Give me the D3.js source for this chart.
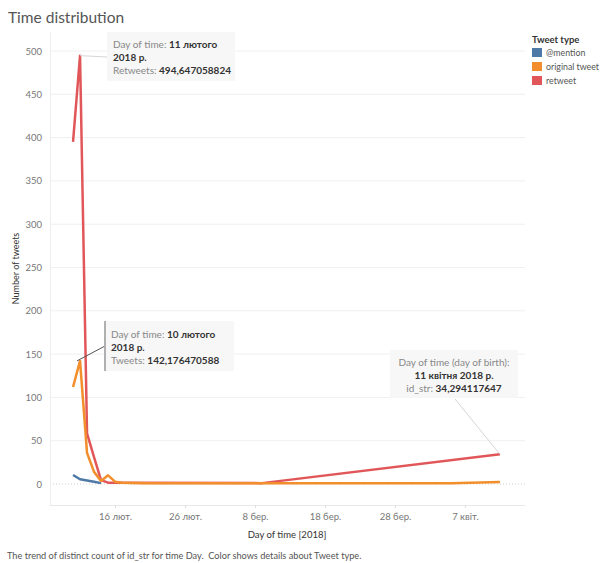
<!DOCTYPE html>
<html>
<head>
<meta charset="utf-8">
<script src="https://cdn.jsdelivr.net/npm/d3@7"></script>
<style>
  body { margin: 0; background: #fff; }
  text { font-family: Lato, "Open Sans", sans-serif; }
</style>
</head>
<body>
<div id="chart"></div>
<script>
const width = 602,
  height = 563;
const plot = { left: 50, right: 525, top: 32, bottom: 505 };

const day = (m, d) => new Date(Date.UTC(2018, m - 1, d));

// values
const mentionDates = [day(2, 10), day(2, 11), day(2, 12), day(2, 13), day(2, 14)];
const mentionValues = [10.4, 5.5, 4, 2.5, 1];

const originalDates = [day(2, 10), day(2, 11), day(2, 12), day(2, 13), day(2, 14), day(2, 15), day(2, 16), day(2, 17), day(2, 20), day(3, 1), day(3, 15), day(4, 1), day(4, 5), day(4, 12)];
const originalValues = [112, 142.176470588, 36, 14, 3.5, 10, 2.7, 1.5, 1, 1, 1, 1, 1, 2.3];

const retweetDates = [day(2, 10), day(2, 11), day(2, 12), day(2, 13), day(2, 14), day(2, 15), day(2, 16), day(3, 9), day(4, 12)];
const retweetValues = [395, 494.647058824, 58.5, 31, 4.5, 1.5, 1.5, 1, 34.294117647];

const seriesNames = ["@mention", "original tweet", "retweet"];
const seriesColors = ["#4e79a7", "#f28e2b", "#e15759"];

const yTicks = [0, 50, 100, 150, 200, 250, 300, 350, 400, 450, 500];
const xTickDates = [day(2, 16), day(2, 26), day(3, 8), day(3, 18), day(3, 28), day(4, 7)];
const xTickLabels = ["16 лют.", "26 лют.", "8 бер.", "18 бер.", "28 бер.", "7 квіт."];

const series = [
  { name: seriesNames[0], color: seriesColors[0], values: mentionDates.map((d, i) => ({ date: d, value: mentionValues[i] })) },
  { name: seriesNames[1], color: seriesColors[1], values: originalDates.map((d, i) => ({ date: d, value: originalValues[i] })) },
  { name: seriesNames[2], color: seriesColors[2], values: retweetDates.map((d, i) => ({ date: d, value: retweetValues[i] })) },
];

const x = d3
  .scaleUtc()
  .domain([new Date(Date.UTC(2018, 1, 6, 17)), new Date(Date.UTC(2018, 3, 15, 14))])
  .range([plot.left, plot.right]);
const y = d3.scaleLinear().domain([0, 500]).range([484, 51]);

const svg = d3
  .select("#chart")
  .append("svg")
  .attr("width", width)
  .attr("height", height);

// title
svg
  .append("text")
  .attr("x", 8)
  .attr("y", 23)
  .attr("font-size", 15.5)
  .attr("fill", "#555")
  .text("Time distribution");

// gridlines
svg
  .append("g")
  .selectAll("line")
  .data(yTicks.filter((d) => d !== 0))
  .enter()
  .append("line")
  .attr("x1", plot.left)
  .attr("x2", plot.right)
  .attr("y1", (d) => y(d))
  .attr("y2", (d) => y(d))
  .attr("stroke", "#f0f0f0")
  .attr("stroke-width", 1);

// zero line
svg
  .append("line")
  .attr("x1", plot.left)
  .attr("x2", plot.right)
  .attr("y1", y(0))
  .attr("y2", y(0))
  .attr("stroke", "#cfcfcf")
  .attr("stroke-dasharray", "1,2");

// plot frame lines
svg
  .append("line")
  .attr("x1", plot.left + 0.5)
  .attr("x2", plot.left + 0.5)
  .attr("y1", plot.top)
  .attr("y2", plot.bottom)
  .attr("stroke", "#eeeeee");

// y axis
const yAxis = svg
  .append("g")
  .attr("transform", `translate(${plot.left},0)`)
  .call(d3.axisLeft(y).tickValues(yTicks).tickSize(0).tickPadding(8));
yAxis.select(".domain").remove();
yAxis.selectAll("text").attr("fill", "#777").attr("font-size", 9.5).attr("font-family", "Lato, sans-serif");

svg
  .append("text")
  .attr("transform", `translate(19,${(plot.top + plot.bottom) / 2}) rotate(-90)`)
  .attr("text-anchor", "middle")
  .attr("font-size", 9)
  .attr("fill", "#333")
  .text("Number of tweets");

// x axis
const xAxis = svg
  .append("g")
  .attr("transform", `translate(0,${plot.bottom})`)
  .call(
    d3
      .axisBottom(x)
      .tickValues(xTickDates)
      .tickFormat((d, i) => xTickLabels[i])
      .tickSize(3)
      .tickSizeOuter(0)
      .tickPadding(5)
  );
xAxis.select(".domain").attr("stroke", "#e8e8e8").attr("d", `M${plot.left},0.5H${plot.right}`);
xAxis.selectAll(".tick line").attr("stroke", "#dddddd");
xAxis.selectAll("text").attr("fill", "#777").attr("font-size", 9.5).attr("font-family", "Lato, sans-serif");

svg
  .append("text")
  .attr("x", 287)
  .attr("y", 538)
  .attr("text-anchor", "middle")
  .attr("font-size", 9.5)
  .attr("fill", "#333")
  .text("Day of time [2018]");

// lines
const line = d3
  .line()
  .x((d) => x(d.date))
  .y((d) => y(d.value));

svg
  .append("g")
  .selectAll("path")
  .data([series[2], series[0], series[1]])
  .enter()
  .append("path")
  .attr("d", (d) => line(d.values))
  .attr("fill", "none")
  .attr("stroke", (d) => d.color)
  .attr("stroke-width", 2.5)
  .attr("stroke-linejoin", "round");

// annotations
function annotate(opt) {
  const g = svg.append("g");
  g.append("line")
    .attr("x1", opt.px)
    .attr("y1", opt.py)
    .attr("x2", opt.lx)
    .attr("y2", opt.ly)
    .attr("stroke", opt.lineColor)
    .attr("stroke-width", 1);
  g.append("rect")
    .attr("x", opt.bx)
    .attr("y", opt.by)
    .attr("width", opt.bw)
    .attr("height", opt.bh)
    .attr("fill", "#f6f6f6")
    .attr("fill-opacity", 0.92);
  if (opt.bar) {
    g.append("rect")
      .attr("x", opt.bx)
      .attr("y", opt.by)
      .attr("width", 2)
      .attr("height", opt.bh)
      .attr("fill", "#b0b0b0");
  }
  opt.lines.forEach((parts, i) => {
    const t = g
      .append("text")
      .attr("x", opt.tx)
      .attr("y", opt.ty + i * 12.8)
      .attr("font-size", 10)
      .attr("text-anchor", opt.anchor || "start");
    parts.forEach((p) => {
      t.append("tspan")
        .attr("fill", p.bold ? "#333" : "#888")
        .attr("font-weight", p.bold ? "bold" : "normal")
        .text(p.text);
    });
  });
}

const peak = series[2].values[1];
annotate({
  px: x(peak.date),
  py: y(peak.value),
  lx: 107,
  ly: 57,
  lineColor: "#d5d5d5",
  bx: 107,
  by: 32,
  bw: 128,
  bh: 49,
  tx: 113,
  ty: 48,
  lines: [
    [{ text: "Day of time: " }, { text: "11 лютого", bold: true }],
    [{ text: "2018 р.", bold: true }],
    [{ text: "Retweets: " }, { text: "494,647058824", bold: true }],
  ],
});

const origPeak = series[1].values[1];
annotate({
  px: x(origPeak.date) - 3,
  py: y(origPeak.value),
  lx: 105,
  ly: 346,
  lineColor: "#555",
  bx: 104,
  by: 321,
  bw: 130,
  bh: 50,
  bar: true,
  tx: 111,
  ty: 338,
  lines: [
    [{ text: "Day of time: " }, { text: "10 лютого", bold: true }],
    [{ text: "2018 р.", bold: true }],
    [{ text: "Tweets: " }, { text: "142,176470588", bold: true }],
  ],
});

const last = series[2].values[series[2].values.length - 1];
annotate({
  px: x(last.date),
  py: y(last.value),
  lx: 455,
  ly: 399,
  lineColor: "#d5d5d5",
  bx: 390,
  by: 350,
  bw: 128,
  bh: 48,
  tx: 454,
  ty: 366,
  anchor: "middle",
  lines: [
    [{ text: "Day of time (day of birth):" }],
    [{ text: "11 квітня 2018 р.", bold: true }],
    [{ text: "id_str: " }, { text: "34,294117647", bold: true }],
  ],
});

// legend
const legend = svg.append("g").attr("transform", "translate(532,0)");
legend
  .append("text")
  .attr("x", 0)
  .attr("y", 43)
  .attr("font-size", 9.5)
  .attr("font-weight", "bold")
  .attr("fill", "#333")
  .text("Tweet type");
seriesNames.forEach((name, i) => {
  legend
    .append("rect")
    .attr("x", 0)
    .attr("y", 48 + i * 14)
    .attr("width", 10)
    .attr("height", 9)
    .attr("fill", seriesColors[i]);
  legend
    .append("text")
    .attr("x", 14)
    .attr("y", 56 + i * 14)
    .attr("font-size", 8.8)
    .attr("fill", "#555")
    .text(name);
});

// caption
svg
  .append("text")
  .attr("x", 7)
  .attr("y", 559)
  .attr("font-size", 9.2)
  .attr("fill", "#555")
  .attr("xml:space", "preserve")
  .text("The trend of distinct count of id_str for time Day.  Color shows details about Tweet type.");
</script>
</body>
</html>
